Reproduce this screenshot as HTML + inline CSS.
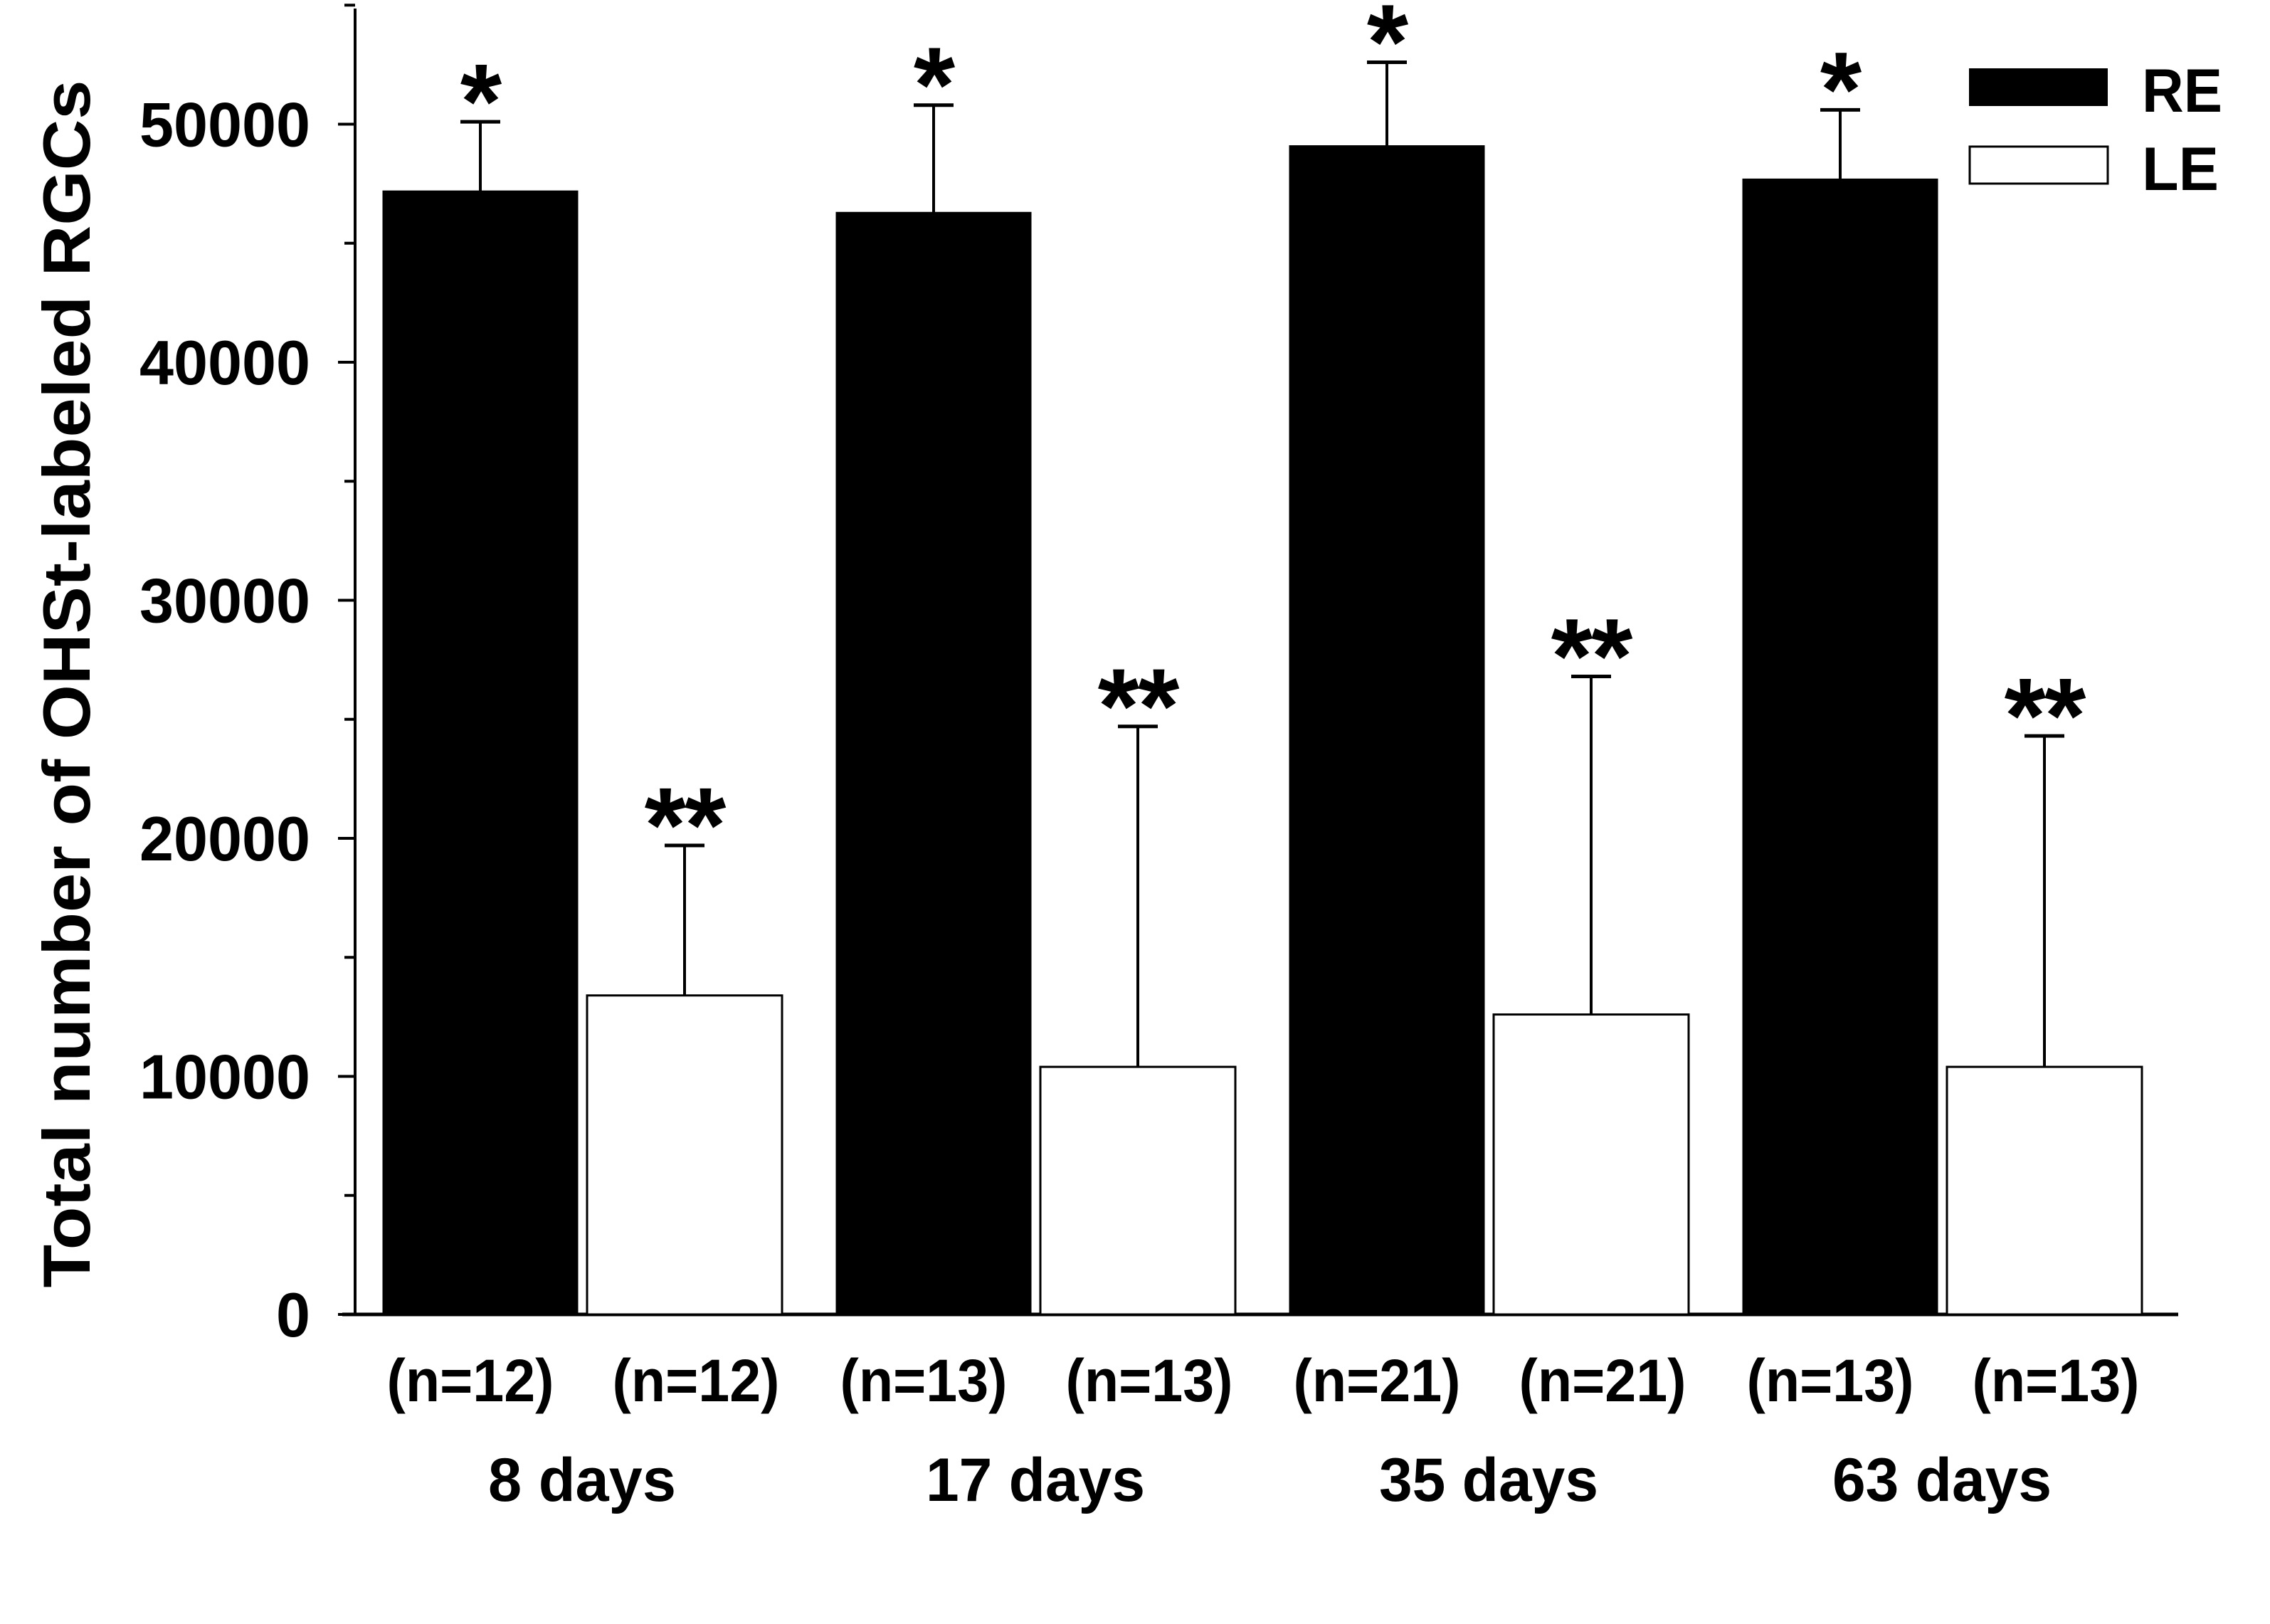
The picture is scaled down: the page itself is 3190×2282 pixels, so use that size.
<!DOCTYPE html>
<html><head><meta charset="utf-8"><style>
html,body{margin:0;padding:0;background:#fff;}
svg{display:block;font-family:"Liberation Sans",Arial,sans-serif;font-weight:bold;}
</style></head><body>
<svg id="chart" width="3190" height="2282" viewBox="0 0 3190 2282" xmlns="http://www.w3.org/2000/svg">
<text transform="translate(126,961) rotate(-90)" text-anchor="middle" font-size="94" textLength="1697" lengthAdjust="spacingAndGlyphs">Total number of OHSt-labeled RGCs</text>
<g id="plot"></g>
<g>
<rect x="2767" y="96" width="195" height="53" fill="#000"/>
<text x="3010" y="157" font-size="86" textLength="113" lengthAdjust="spacingAndGlyphs">RE</text>
<rect x="2768" y="206" width="194" height="52" fill="#fff" stroke="#000" stroke-width="3"/>
<text x="3010" y="267" font-size="86" textLength="108" lengthAdjust="spacingAndGlyphs">LE</text>
</g>
</svg>
<script>
const categories = ["8 days","17 days","35 days","63 days"];
const nLabels = ["(n=12)","(n=13)","(n=21)","(n=13)"];
const reValues = [47200,46300,49100,47700];
const reErrors = [2900,4500,3500,2900];
const leValues = [13400,10400,12600,10400];
const leErrors = [6300,14300,14200,13900];
const yTicks = [0,10000,20000,30000,40000,50000];

const NS="http://www.w3.org/2000/svg";
const g=document.getElementById('plot');
const x0=499, y0=1847, pxPer=0.03345;
function Y(v){return y0 - v*pxPer;}
function X(i,s){return 538 + i*637 + s*287;}
const bw=274;
function mk(tag,attrs){const e=document.createElementNS(NS,tag);for(const k in attrs)e.setAttribute(k,attrs[k]);g.appendChild(e);return e;}

let a=mk('line',{x1:x0,y1:12,x2:x0,y2:y0+2,stroke:'#000','stroke-width':4});


a=mk('line',{x1:481,y1:y0,x2:3061,y2:y0,stroke:'#000','stroke-width':5});


for(let v=0;v<=55000;v+=5000){
  const major=v%10000===0;
  const t=mk('line',{x1:major?475:484,y1:Y(v),x2:x0,y2:Y(v),stroke:'#000','stroke-width':4});
  
  
}
yTicks.forEach(v=>{
  const s=String(v);
  const w=s.length*48;
  const t=mk('text',{x:436-w,y:Y(v)+31,'font-size':88,textLength:w,lengthAdjust:'spacingAndGlyphs'});
  t.textContent=s;
  
  
});

function bar(i,s,val,err,fill,stars){
  const x=X(i,s), top=Y(val), cx=x+bw/2, capY=Y(val+err);
  const e=mk('line',{x1:cx,y1:top,x2:cx,y2:capY,stroke:'#000','stroke-width':4});
  
  
  const c=mk('line',{x1:cx-28,y1:capY,x2:cx+28,y2:capY,stroke:'#000','stroke-width':5});
  
  
  const r=mk('rect',{x:x,y:top,width:bw,height:y0-top,fill:fill,stroke:'#000','stroke-width':s?3:1});
  
  
  const st=mk('text',{x:cx,y:capY+23,'text-anchor':'middle','font-size':150,'letter-spacing':-2});
  st.textContent=stars;
  
  
  const n=mk('text',{x:cx+(s?16:-14),y:1969,'text-anchor':'middle','font-size':84,textLength:235,lengthAdjust:'spacingAndGlyphs'});
  n.textContent=nLabels[i];
  
  
}
categories.forEach((c,i)=>{
  bar(i,0,reValues[i],reErrors[i],'#000','*');
  bar(i,1,leValues[i],leErrors[i],'#fff','**');
  const t=mk('text',{x:X(i,0)+bw+6,y:2109,'text-anchor':'middle','font-size':86,textLength:c.length*44,lengthAdjust:'spacingAndGlyphs'});
  t.textContent=c;
  
  
});
</script>
</body></html>
